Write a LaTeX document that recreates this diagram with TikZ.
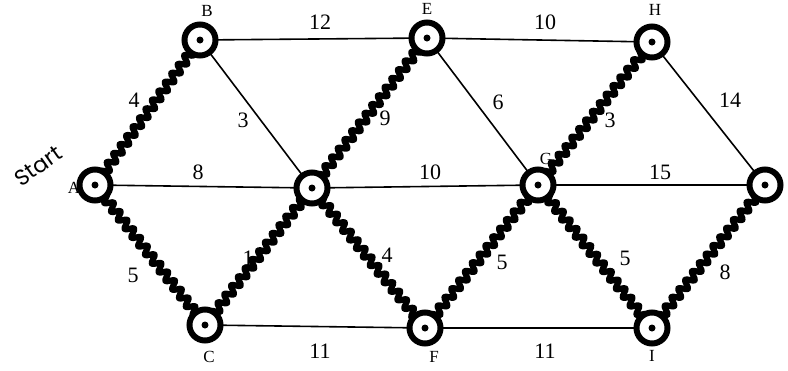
\documentclass[tikz,border=0pt]{standalone}
\usepackage{fontspec}
\setmainfont{Liberation Serif}
\newfontfamily\handfont{Poppins}
\usetikzlibrary{decorations.pathmorphing}
\begin{document}
\begin{tikzpicture}[x=1pt,y=-1pt,
  vtx/.style={circle,draw=black,line width=6pt,fill=white,minimum size=31pt,inner sep=0pt},
  plain/.style={draw=black,line width=1.6pt},
  tree/.style={draw=black,line width=6pt,line cap=round,line join=round,
    decorate,decoration={snake,segment length=11pt,amplitude=4pt}},
  wt/.style={font=\fontsize{22}{24}\selectfont,inner sep=1pt},
  lbl/.style={font=\fontsize{17}{19}\selectfont,inner sep=0pt},
  dot/.style={circle,fill=black,minimum size=7pt,inner sep=0pt}]
\useasboundingbox (0,0) rectangle (788,370);
\coordinate (B) at (200,40);
\coordinate (E) at (427,38);
\coordinate (H) at (652,42);
\coordinate (A) at (95,185);
\coordinate (D) at (312,188);
\coordinate (G) at (538,185);
\coordinate (J) at (765,185);
\coordinate (C) at (205,325);
\coordinate (F) at (425,328);
\coordinate (I) at (652,328);
% plain edges
\draw[plain] (B) -- (E);
\draw[plain] (E) -- (H);
\draw[plain] (B) -- (D);
\draw[plain] (E) -- (G);
\draw[plain] (H) -- (J);
\draw[plain] (A) -- (D);
\draw[plain] (D) -- (G);
\draw[plain] (G) -- (J);
\draw[plain] (C) -- (F);
\draw[plain] (F) -- (I);
% tree edges
\draw[tree] (A) -- (B);
\draw[tree] (D) -- (E);
\draw[tree] (G) -- (H);
\draw[tree] (A) -- (C);
\draw[tree] (C) -- (D);
\draw[tree] (D) -- (F);
\draw[tree] (F) -- (G);
\draw[tree] (G) -- (I);
\draw[tree] (I) -- (J);
% vertices
\foreach \v in {A,B,C,D,E,F,G,H,I,J}{
  \node[vtx] (n\v) at (\v) {};
  \node[dot] (d\v) at (\v) {};
}
% vertex letters
\node[lbl] (lB) at (207,11) {B};
\node[lbl] (lE) at (427,9) {E};
\node[lbl] (lH) at (655,10) {H};
\node[lbl] (lA) at (74,188) {A};
\node[lbl] (lG) at (546,159) {G};
\node[lbl] (lC) at (209,357) {C};
\node[lbl] (lF) at (434,357) {F};
\node[lbl] (lI) at (652,356) {I};
% weights
\node[wt] (w1) at (320,22) {12};
\node[wt] (w2) at (545,22) {10};
\node[wt] (w3) at (243,120) {3};
\node[wt] (w4) at (134,100) {4};
\node[wt] (w5) at (385,118) {9};
\node[wt] (w6) at (498,102) {6};
\node[wt] (w7) at (610,120) {3};
\node[wt] (w8) at (730,100) {14};
\node[wt] (w9) at (198,172) {8};
\node[wt] (w10) at (430,172) {10};
\node[wt] (w11) at (660,172) {15};
\node[wt] (w12) at (133,275) {5};
\node[wt] (w13) at (248,258) {1};
\node[wt] (w14) at (387,255) {4};
\node[wt] (w15) at (502,262) {5};
\node[wt] (w16) at (625,258) {5};
\node[wt] (w17) at (725,272) {8};
\node[wt] (w18) at (320,351) {11};
\node[wt] (w19) at (545,351) {11};
% start
\node[font=\handfont\fontsize{22}{24}\selectfont,rotate=35,inner sep=0pt] (start) at (38,166) {Start};
\end{tikzpicture}
\end{document}
